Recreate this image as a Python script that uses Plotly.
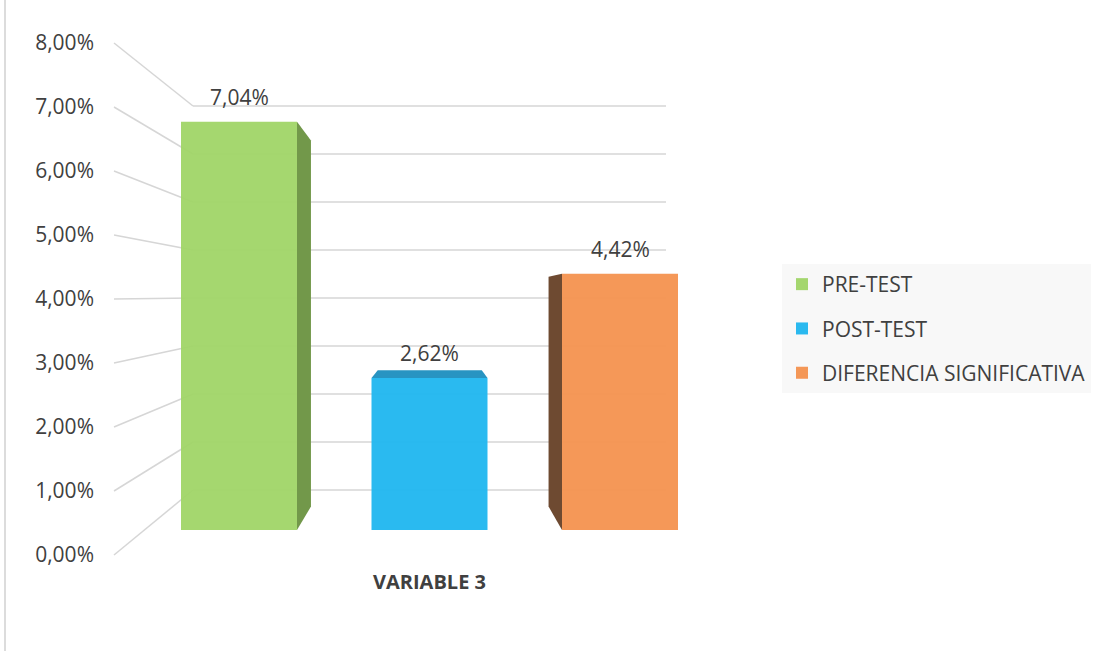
import plotly.graph_objects as go

# ---------------- data ----------------
categories = ["VARIABLE 3"]
series_names = ["PRE-TEST", "POST-TEST", "DIFERENCIA SIGNIFICATIVA"]
series_values = [7.04, 2.62, 4.42]          # percent
series_colors = ["#a0d567", "#1fb6ef", "#f4924f"]
shade_colors = ["#72984a", "#2894c2", "#6e4a31"]
tick_values = [0, 1, 2, 3, 4, 5, 6, 7, 8]
tick_labels = ["0,00%", "1,00%", "2,00%", "3,00%", "4,00%", "5,00%", "6,00%", "7,00%", "8,00%"]

# ---------------- geometry (pixels of the 1101x651 page) ----------------
W, H = 1101, 651
PL, PR, PT, PB = 100, 700, 30, 568          # plot area
SLOT = 190.5                                 # px per bar slot
X0_PX = 239                                  # centre of first bar
UNIT = 58.0                                  # px per 1 % on bar front plane
BASE_PX = 530                                # floor of the bars
BAR_W = 116 / SLOT

def px_x(p):
    return (p - X0_PX) / SLOT

def px_y(p):
    return (BASE_PX - p) / UNIT

x_range = [px_x(PL), px_x(PR)]
y_range = [px_y(PB), px_y(PT)]

# walls (perspective grid)
FRONT_X, FRONT_BASE, FRONT_UNIT = 114, 555, 64
BACK_X, BACK_BASE, BACK_UNIT, BACK_RIGHT = 193, 490, 48, 666
# vanishing point & depth for the bar sides
VPX, VPY, K = px_x(432), px_y(303), 0.1034

def back(x, y):
    return x + (VPX - x) * K, y + (VPY - y) * K

fig = go.Figure()

# bars (front faces)
for i, (name, val, col) in enumerate(zip(series_names, series_values, series_colors)):
    fig.add_trace(go.Bar(
        x=[i], y=[val], width=BAR_W, name=name, legendgroup=name,
        marker=dict(color=col, line=dict(width=0)), opacity=0.95,
        hoverinfo="skip"))

# 3-D side / top faces computed from the values
for i, (val, sc) in enumerate(zip(series_values, shade_colors)):
    xl, xr = i - BAR_W / 2, i + BAR_W / 2
    polys = []
    if xr < VPX:      # right side visible
        polys.append([(xr, 0), (xr, val), back(xr, val), back(xr, 0)])
    if xl > VPX:      # left side visible
        polys.append([(xl, 0), (xl, val), back(xl, val), back(xl, 0)])
    if val < VPY:     # top visible
        polys.append([(xl, val), (xr, val), back(xr, val), back(xl, val)])
    for pts in polys:
        xs = [p[0] for p in pts] + [pts[0][0]]
        ys = [p[1] for p in pts] + [pts[0][1]]
        fig.add_trace(go.Scatter(x=xs, y=ys, mode="lines", fill="toself",
                                 fillcolor=sc, line=dict(width=0, color=sc),
                                 showlegend=False, hoverinfo="skip"))

# perspective gridlines
shapes = []
GRID = dict(color="#d6d6d6", width=1.5)
for v in tick_values:
    fy = px_y(FRONT_BASE - FRONT_UNIT * v)
    by = px_y(BACK_BASE - BACK_UNIT * v)
    shapes.append(dict(type="line", xref="x", yref="y", layer="below",
                       x0=px_x(FRONT_X), y0=fy, x1=px_x(BACK_X), y1=by, line=GRID))
    shapes.append(dict(type="line", xref="x", yref="y", layer="below",
                       x0=px_x(BACK_X), y0=by, x1=px_x(BACK_RIGHT), y1=by, line=GRID))
# chart border (left)
shapes.append(dict(type="line", xref="paper", yref="paper", layer="below",
                   x0=(5 - PL) / (PR - PL), x1=(5 - PL) / (PR - PL),
                   y0=(PB - 0) / (PB - PT), y1=(PB - H) / (PB - PT),
                   line=dict(color="#d0d0d0", width=1.5)))

# data labels
annotations = []
for i, val in enumerate(series_values):
    annotations.append(dict(x=i, y=val, xref="x", yref="y", showarrow=False,
                            text=f"{val:.2f}%".replace(".", ","), yanchor="middle",
                            yshift=25, font=dict(size=21, color="#404040",
                                                 family="Open Sans")))

fig.update_layout(
    width=W, height=H,
    margin=dict(l=PL, r=W - PR, t=PT, b=H - PB, autoexpand=False),
    paper_bgcolor="white", plot_bgcolor="rgba(0,0,0,0)",
    barmode="overlay",
    font=dict(family="Open Sans", color="#404040"),
    shapes=shapes, annotations=annotations,
    xaxis=dict(range=x_range, showgrid=False, zeroline=False, showline=False,
               tickvals=[1], ticktext=["<b>" + categories[0] + "</b>"],
               tickfont=dict(size=20, color="#404040"), ticks="",
               ticklabelstandoff=0, fixedrange=True),
    yaxis=dict(range=y_range, showgrid=False, zeroline=False, showline=False,
               tickvals=[px_y(FRONT_BASE - FRONT_UNIT * v) for v in tick_values],
               ticktext=tick_labels, ticks="", ticklabelstandoff=5,
               tickfont=dict(size=21, color="#404040"), fixedrange=True),
    legend=dict(x=(782 - PL) / (PR - PL), y=(PB - 264) / (PB - PT),
                xanchor="left", yanchor="top", bgcolor="#f8f8f8",
                font=dict(size=21, color="#404040", family="Open Sans"),
                traceorder="grouped", tracegroupgap=14),
    showlegend=True,
)

fig.write_html("out.html", config={"displayModeBar": False},
               post_script="document.body.style.margin='0px';")
